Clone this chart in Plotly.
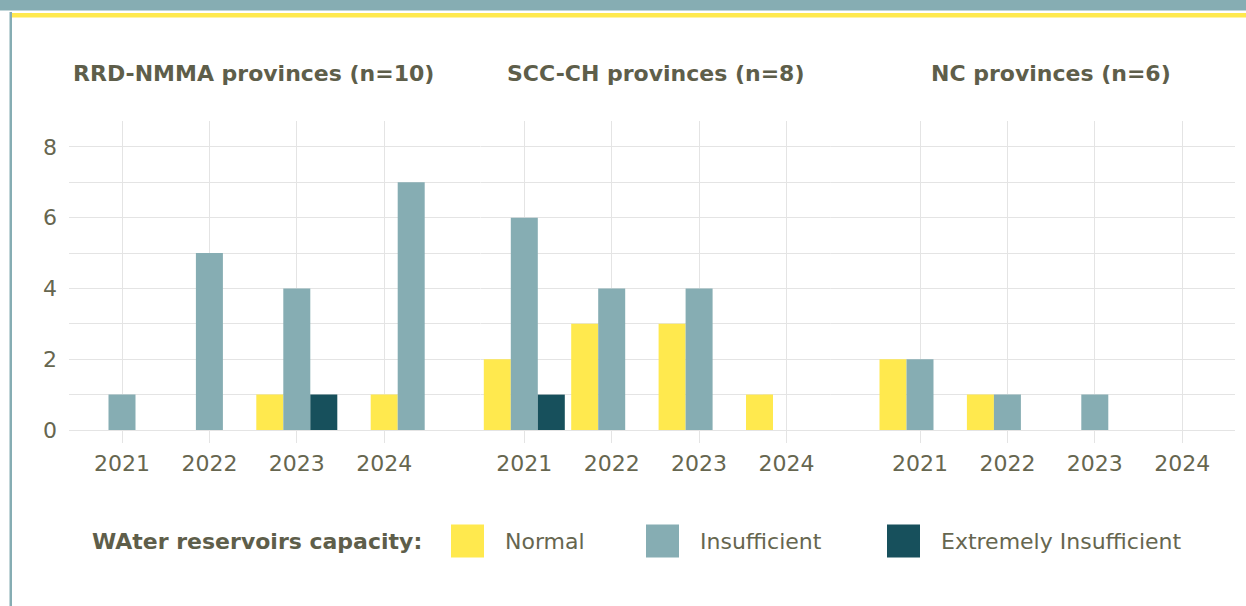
import plotly.graph_objects as go

# ---------------- data ----------------
years = ["2021", "2022", "2023", "2024"]
panels = ["RRD-NMMA provinces (n=10)", "SCC-CH provinces (n=8)", "NC provinces (n=6)"]
series = ["Normal", "Insufficient", "Extremely Insufficient"]

normal_rrd = [0, 0, 1, 1]
insufficient_rrd = [1, 5, 4, 7]
extreme_rrd = [0, 0, 1, 0]

normal_scc = [2, 3, 3, 1]
insufficient_scc = [6, 4, 4, 0]
extreme_scc = [1, 0, 0, 0]

normal_nc = [2, 1, 0, 0]
insufficient_nc = [2, 1, 1, 0]
extreme_nc = [0, 0, 0, 0]

legend_title = "WAter reservoirs capacity:"

# ---------------- style ----------------
COLORS = {"Normal": "#FFE94E", "Insufficient": "#86ADB3", "Extremely Insufficient": "#17505C"}
TEXT = "#5E5E4A"
TICK = "#66664F"
GRID = "#E4E4E4"
FONT = "DejaVu Sans, Verdana, sans-serif"
FS = 22

W_PX, H_PX = 1246, 606
L, R, T, B = 69, 1235, 121, 430
PW, PH = R - L, B - T

def px_x(p):
    return (p - L) / PW

def px_y(p):
    return (B - p) / PH

SPACING = 87.4
first_cat_px = [122, 524.3, 920]
BAR_W = 27 / SPACING

# slot positions (-1 left, 0 centre, +1 right) for each series per panel
slots = [
    {"Normal": [-1, -1, -1, 0], "Insufficient": [0, 0, 0, 1], "Extremely Insufficient": [1, 1, 1, 1]},
    {"Normal": [-1] * 4, "Insufficient": [0] * 4, "Extremely Insufficient": [1] * 4},
    {"Normal": [-1] * 4, "Insufficient": [0] * 4, "Extremely Insufficient": [1] * 4},
]

values = [
    {"Normal": normal_rrd, "Insufficient": insufficient_rrd, "Extremely Insufficient": extreme_rrd},
    {"Normal": normal_scc, "Insufficient": insufficient_scc, "Extremely Insufficient": extreme_scc},
    {"Normal": normal_nc, "Insufficient": insufficient_nc, "Extremely Insufficient": extreme_nc},
]

fig = go.Figure()

# invisible trace so the full-width background subplot (horizontal grid) is drawn
fig.add_trace(go.Scatter(x=[0.5], y=[-5], mode="markers", marker=dict(opacity=0),
                         xaxis="x", yaxis="y", showlegend=False, hoverinfo="skip"))

for i in range(3):
    xa = "x%d" % (i + 2)
    for s in series:
        fig.add_trace(go.Bar(
            x=years, y=values[i][s], name=s,
            xaxis=xa, yaxis="y",
            width=BAR_W,
            offset=[(k - 0.5) * BAR_W for k in slots[i][s]],
            marker=dict(color=COLORS[s], line=dict(width=0)),
            showlegend=False,
            hoverinfo="x+y+name",
        ))

layout = dict(
    width=W_PX, height=H_PX,
    margin=dict(l=L, r=W_PX - R, t=T, b=H_PX - B, pad=0),
    paper_bgcolor="white", plot_bgcolor="white",
    barmode="overlay",
    font=dict(family=FONT, color=TICK),
    xaxis=dict(domain=[0, 1], range=[0, 1], visible=False, showgrid=False, zeroline=False, fixedrange=True),
    yaxis=dict(
        anchor="x", domain=[0, 1], range=[0, 8.73],
        tickvals=[0, 2, 4, 6, 8], ticks="", showline=False,
        showgrid=True, gridcolor=GRID, gridwidth=1,
        minor=dict(dtick=1, tick0=0, showgrid=True, gridcolor=GRID, gridwidth=1, ticks=""),
        zeroline=True, zerolinecolor=GRID, zerolinewidth=1,
        tickfont=dict(size=FS, color=TICK, family=FONT),
        ticklabelstandoff=11,
        fixedrange=True,
    ),
    showlegend=False,
)

annotations = []
shapes = []
for i in range(3):
    start = first_cat_px[i] - SPACING / 2
    end = start + 4 * SPACING
    layout["xaxis%d" % (i + 2)] = dict(
        domain=[px_x(start), px_x(end)], anchor="y",
        type="category", range=[-0.5, 3.5],
        showgrid=True, gridcolor=GRID, gridwidth=1,
        ticks="outside", ticklen=12, tickcolor=GRID, tickwidth=1,
        showline=False, zeroline=False,
        tickfont=dict(size=FS, color=TICK, family=FONT),
        ticklabelstandoff=2,
        fixedrange=True,
    )
    annotations.append(dict(
        xref="paper", yref="paper", x=px_x((start + end) / 2), y=px_y(73),
        text="<b>%s</b>" % panels[i], showarrow=False,
        xanchor="center", yanchor="middle",
        font=dict(size=FS, color=TEXT, family=FONT),
    ))

# legend (manual)
LEG_Y = 541
annotations.append(dict(
    xref="paper", yref="paper", x=px_x(90), y=px_y(LEG_Y),
    text="<b>%s</b>" % legend_title, showarrow=False,
    xanchor="left", yanchor="middle",
    font=dict(size=FS, color=TEXT, family=FONT),
))
legend_swatch_px = [451, 646, 887]
for s, sx in zip(series, legend_swatch_px):
    shapes.append(dict(
        type="rect", xref="paper", yref="paper",
        x0=px_x(sx), x1=px_x(sx + 33), y0=px_y(LEG_Y + 16.5), y1=px_y(LEG_Y - 16.5),
        fillcolor=COLORS[s], line=dict(width=0),
    ))
    annotations.append(dict(
        xref="paper", yref="paper", x=px_x(sx + 52), y=px_y(LEG_Y),
        text=s, showarrow=False, xanchor="left", yanchor="middle",
        font=dict(size=FS, color=TICK, family=FONT),
    ))

# header band, yellow rule, left border
shapes.append(dict(type="rect", xref="paper", yref="paper",
                   x0=px_x(-2), x1=px_x(W_PX + 2), y0=px_y(10.5), y1=px_y(-2),
                   fillcolor="#86ADB3", line=dict(width=0), layer="above"))
shapes.append(dict(type="rect", xref="paper", yref="paper",
                   x0=px_x(12), x1=px_x(W_PX + 2), y0=px_y(17.5), y1=px_y(13),
                   fillcolor="#FFE94E", line=dict(width=0), layer="above"))
shapes.append(dict(type="rect", xref="paper", yref="paper",
                   x0=px_x(9.5), x1=px_x(12), y0=px_y(W_PX), y1=px_y(12),
                   fillcolor="#86ADB3", line=dict(width=0), layer="above"))

layout["annotations"] = annotations
layout["shapes"] = shapes
fig.update_layout(**layout)

fig.write_html("out.html", config={"displayModeBar": False},
               post_script="document.body.style.margin='0';document.body.style.overflow='hidden';")
